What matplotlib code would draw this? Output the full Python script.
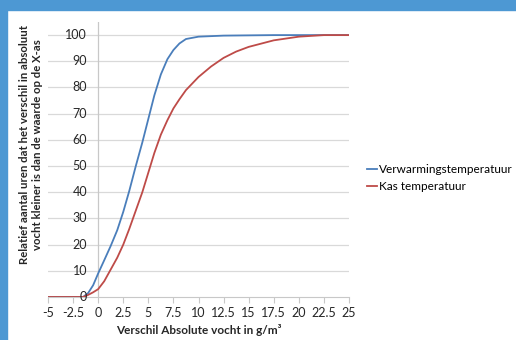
import matplotlib
matplotlib.use("Agg")
import matplotlib.pyplot as plt
from matplotlib.patches import Rectangle

plt.rcParams['font.family'] = ['Lato', 'DejaVu Sans']

# Data
x_blauw = [-5, -2.5, -1.5, -1, -0.5, 0, 0.6, 1.25, 1.9, 2.5, 3.1, 3.75, 4.4, 5, 5.6,
           6.25, 6.9, 7.5, 8.1, 8.75, 10, 11.25, 12.5, 15, 17.5, 20, 22.5, 25]
y_blauw = [0, 0, 0, 1.5, 4.5, 9, 14, 19.5, 25.5, 32.5, 40.5, 50, 59, 68, 77,
           85, 90.8, 94.3, 96.8, 98.5, 99.4, 99.6, 99.8, 99.9, 100, 100, 100, 100]

x_rood = [-5, -2.5, -1.5, -1, -0.5, 0, 0.6, 1.25, 1.9, 2.5, 3.1, 3.75, 4.4, 5, 5.6,
          6.25, 6.9, 7.5, 8.1, 8.75, 10, 11.25, 12.5, 13.75, 15, 17.5, 20, 22.5, 25]
y_rood = [0, 0, 0, 0.8, 1.8, 3, 6, 10.5, 15, 20, 26, 33, 40, 47.5, 55,
          62, 67.5, 72, 75.5, 79, 84, 88, 91.3, 93.7, 95.5, 98, 99.4, 100, 100]

labels = ['Verwarmingstemperatuur', 'Kas temperatuur']
x_ticks = [-5, -2.5, 0, 2.5, 5, 7.5, 10, 12.5, 15, 17.5, 20, 22.5, 25]
y_ticks = [0, 10, 20, 30, 40, 50, 60, 70, 80, 90, 100]

fig = plt.figure(figsize=(5.16, 3.40), dpi=100)
fig.patch.set_facecolor('white')

# blauwe rand boven en links
fig.patches.append(Rectangle((0, 1 - 10 / 340), 1, 10 / 340, transform=fig.transFigure,
                             color='#4D98D3', zorder=0))
fig.patches.append(Rectangle((0, 0), 7 / 516, 1, transform=fig.transFigure,
                             color='#4D98D3', zorder=0))

ax = fig.add_axes([48 / 516, 43 / 340, 301 / 516, 275 / 340])
ax.set_xlim(-5, 25)
ax.set_ylim(0, 105)

for v in y_ticks[1:]:
    ax.axhline(v, color='#D9D9D9', lw=0.9, zorder=1)
ax.axvline(0, color='#C8C8C8', lw=0.9, zorder=1)

l1, = ax.plot(x_blauw, y_blauw, color='#4A7EBB', lw=1.3, zorder=3)
l2, = ax.plot(x_rood, y_rood, color='#BE4B48', lw=1.3, zorder=3)

for s in ['top', 'right', 'left']:
    ax.spines[s].set_visible(False)
ax.spines['bottom'].set_color('#C8C8C8')
ax.set_xticks(x_ticks)
ax.set_xticklabels(['%g' % t for t in x_ticks], fontsize=9, color='#262626')
ax.tick_params(axis='x', direction='out', length=4, color='#C8C8C8', pad=3)
ax.set_yticks([])

for v in y_ticks:
    ax.annotate(str(v), (0, v), xytext=(-8, 0), textcoords='offset points',
                ha='right', va='center', fontsize=9, color='#262626', zorder=4)

ax.set_xlabel('Verschil Absolute vocht in g/m³', fontsize=8.5, fontweight='bold',
              color='#262626', labelpad=4)
fig.text(31 / 516, 1 - 145 / 340,
         'Relatief aantal uren dat het verschil in absoluut\nvocht kleiner is dan de waarde op de X-as',
         rotation=90, ha='center', va='center', fontsize=8.2, fontweight='bold',
         color='#262626', linespacing=1.2)

fig.legend([l1, l2], labels, loc='center left', bbox_to_anchor=(362 / 516, 1 - 178 / 340),
           frameon=False, fontsize=8.5, handlelength=0.9, handletextpad=0.15,
           labelspacing=0.45, borderaxespad=0)

fig.savefig('out.png', dpi=100)
